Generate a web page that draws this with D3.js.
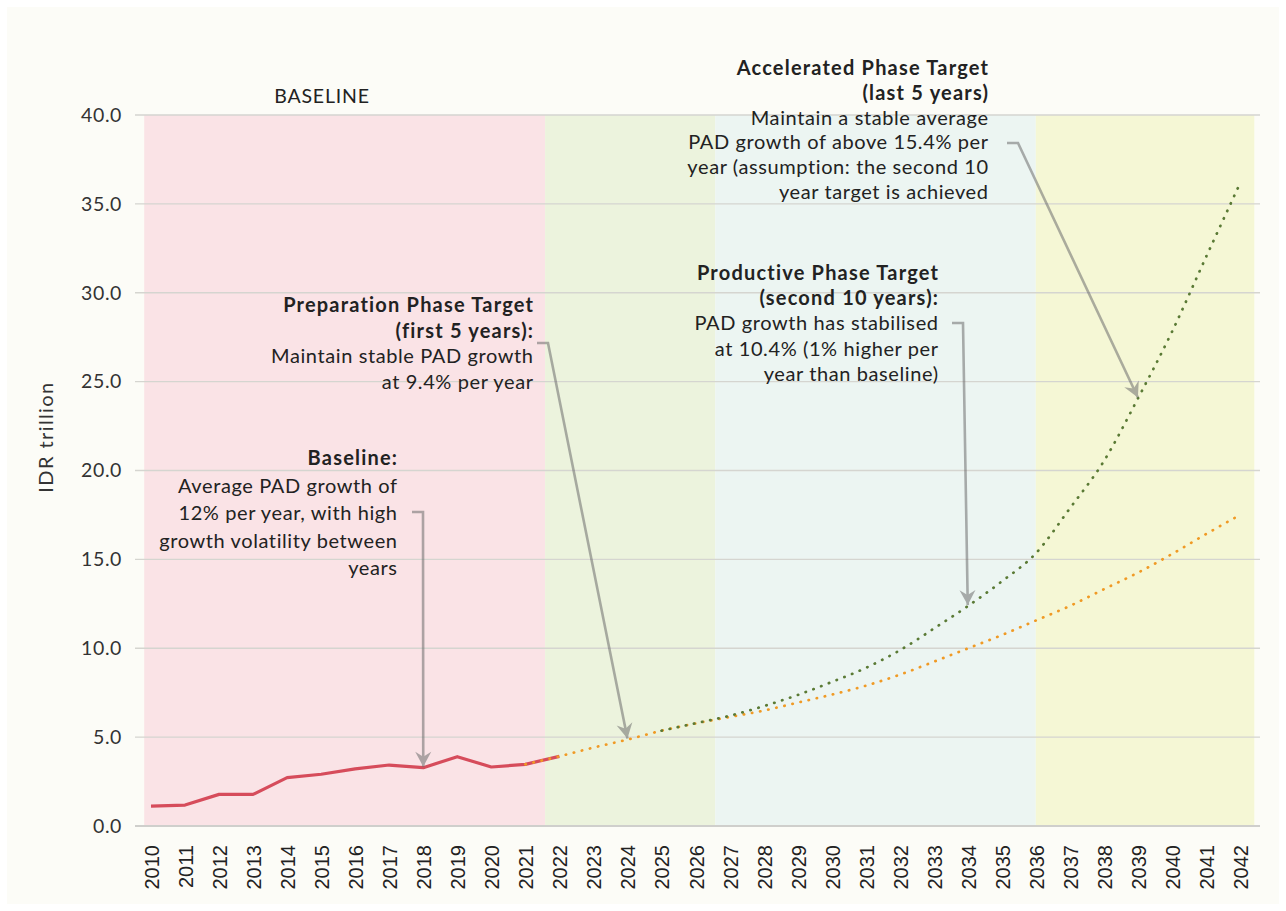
<!DOCTYPE html>
<meta charset="utf-8">
<style>
body {
  margin: 0;
  background: #fff;
}
text {
  font-family: Lato, "Open Sans", sans-serif;
  fill: #222;
}
.grid line {
  stroke: #d5d5d0;
  stroke-width: 1.4;
}
.xlab {
  font-family: "Liberation Sans", Arial, sans-serif;
  font-size: 20px;
}
</style>
<body>
<script src="https://d3js.org/d3.v7.min.js"></script>
<script>

// categories on the x axis
const years = [2010, 2011, 2012, 2013, 2014, 2015, 2016, 2017, 2018, 2019, 2020, 2021,
               2022, 2023, 2024, 2025, 2026, 2027, 2028, 2029, 2030, 2031, 2032, 2033,
               2034, 2035, 2036, 2037, 2038, 2039, 2040, 2041, 2042];

// historical PAD (red)
const baseYears = [2010, 2011, 2012, 2013, 2014, 2015, 2016, 2017, 2018, 2019, 2020, 2021, 2022];
const baseline  = [1.12, 1.18, 1.78, 1.78, 2.72, 2.91, 3.21, 3.43, 3.28, 3.90, 3.32, 3.47, 3.92];

// baseline projection (orange dots)
const projYears = [2021, 2022, 2023, 2024, 2025, 2026, 2027, 2028, 2029, 2030, 2031,
                   2032, 2033, 2034, 2035, 2036, 2037, 2038, 2039, 2040, 2041, 2042];
const projection = [3.47, 3.92, 4.41, 4.86, 5.36, 5.77, 6.13, 6.49, 6.94, 7.39, 7.89,
                    8.51, 9.24, 9.99, 10.74, 11.56, 12.38, 13.32, 14.25, 15.30, 16.42, 17.50];

// target path (green dots)
const targetYears = [2025, 2026, 2027, 2028, 2029, 2030, 2031, 2032, 2033,
                     2034, 2035, 2036, 2037, 2038, 2039, 2040, 2041, 2042];
const target = [5.36, 5.78, 6.20, 6.74, 7.37, 8.10, 8.89, 9.88, 11.10,
                12.37, 13.76, 15.34, 17.87, 20.53, 24.05, 27.80, 32.00, 36.15];

const yTicks = [0, 5, 10, 15, 20, 25, 30, 35, 40];

// phase shading, in year units
const phaseBounds = [2009.8, 2021.58, 2026.58, 2036, 2042.42];
const phaseColors = ["#fae3e6", "#ecf3dd", "#ecf5f2", "#f5f7d5"];

var W = 1286, H = 911;

var svg = d3.select("body").append("svg")
    .attr("width", W)
    .attr("height", H);

svg.append("rect")
    .attr("x", 7).attr("y", 7)
    .attr("width", 1272).attr("height", 897)
    .attr("fill", "#fcfcf7");

var x = d3.scaleLinear().domain([2010, 2042]).range([151, 1240]);
var y = d3.scaleLinear().domain([0, 40]).range([826, 115]);

// phases
svg.selectAll(".phase")
  .data(phaseColors)
  .enter().append("rect")
    .attr("class", "phase")
    .attr("x", (d, i) => x(phaseBounds[i]))
    .attr("width", (d, i) => x(phaseBounds[i + 1]) - x(phaseBounds[i]))
    .attr("y", y(40))
    .attr("height", y(0) - y(40))
    .attr("fill", d => d);

// gridlines
var grid = svg.append("g").attr("class", "grid");
grid.selectAll("line")
  .data(yTicks)
  .enter().append("line")
    .attr("x1", 135).attr("x2", 1260)
    .attr("y1", d => y(d)).attr("y2", d => y(d))
    .style("stroke-width", d => d === 0 ? 2.2 : 1.4)
    .style("stroke", d => d === 0 ? "#cfcfcc" : null);

// y axis labels
var yAxis = d3.axisLeft(y).tickValues(yTicks).tickFormat(d3.format(".1f")).tickSize(0).tickPadding(0);
var gy = svg.append("g").attr("transform", "translate(122,0)").call(yAxis);
gy.select(".domain").remove();
gy.selectAll("text")
    .style("font-family", "Lato, sans-serif")
    .style("font-size", "19.5px")
    .style("letter-spacing", "0.6px")
    .style("fill", "#333");

svg.append("text")
    .attr("transform", "translate(53,437) rotate(-90)")
    .attr("text-anchor", "middle")
    .style("font-size", "20px")
    .style("letter-spacing", "1.4px")
    .style("fill", "#333")
    .text("IDR trillion");

// x axis labels
svg.selectAll(".xlab")
  .data(years)
  .enter().append("text")
    .attr("class", "xlab")
    .attr("transform", d => "translate(" + (x(d) + 1) + ",845) rotate(-90)")
    .attr("text-anchor", "end")
    .attr("dy", "0.35em")
    .text(d => d);

svg.append("text")
    .attr("x", 322).attr("y", 103)
    .attr("text-anchor", "middle")
    .style("font-size", "19.5px")
    .style("letter-spacing", "0.8px")
    .text("BASELINE");

// lines
var straight = d3.line().x(d => x(d[0])).y(d => y(d[1]));
var smooth = d3.line().x(d => x(d[0])).y(d => y(d[1])).curve(d3.curveMonotoneX);

svg.append("path")
    .datum(d3.zip(baseYears, baseline))
    .attr("d", straight)
    .attr("fill", "none")
    .attr("stroke", "#d64c5b")
    .attr("stroke-width", 3.2)
    .attr("stroke-linejoin", "round");

svg.append("path")
    .datum(d3.zip(projYears, projection))
    .attr("d", smooth)
    .attr("fill", "none")
    .attr("stroke", "#f09a25")
    .attr("stroke-width", 2.7)
    .attr("stroke-linecap", "round")
    .attr("stroke-dasharray", "0.4 7.9");

svg.append("path")
    .datum(d3.zip(targetYears, target))
    .attr("d", smooth)
    .attr("fill", "none")
    .attr("stroke", "#5a7a35")
    .attr("stroke-width", 2.7)
    .attr("stroke-linecap", "round")
    .attr("stroke-dasharray", "0.4 7.9");

// annotations
const notes = [
  { bold: ["Baseline:"],
    lines: ["Average PAD growth of", "12% per year, with high", "growth volatility between", "years"],
    right: 397, top: 465, step: 27.6,
    from: [412, 512], elbow: [423, 512], year: 2018, value: 3.28 },
  { bold: ["Preparation Phase Target", "(first 5 years):"],
    lines: ["Maintain stable PAD growth", "at 9.4% per year"],
    right: 533, top: 312, step: 25.7,
    from: [537, 343], elbow: [548, 343], year: 2024, value: 4.86 },
  { bold: ["Productive Phase Target", "(second 10 years):"],
    lines: ["PAD growth has stabilised", "at 10.4% (1% higher per", "year than baseline)"],
    right: 938, top: 280, step: 25.2,
    from: [952, 323], elbow: [963, 323], year: 2034, value: 12.37 },
  { bold: ["Accelerated Phase Target", "(last 5 years)"],
    lines: ["Maintain a stable average", "PAD growth of above 15.4% per", "year (assumption: the second 10", "year target is achieved"],
    right: 988, top: 75, step: 24.8,
    from: [1007, 143], elbow: [1018, 143], year: 2039, value: 24.05 }
];

var defs = svg.append("defs");
defs.append("marker")
    .attr("id", "head")
    .attr("viewBox", "-16 -9 18 18")
    .attr("refX", 0).attr("refY", 0)
    .attr("markerWidth", 18).attr("markerHeight", 18)
    .attr("markerUnits", "userSpaceOnUse")
    .attr("orient", "auto")
  .append("path")
    .attr("d", "M0,0 L-15,-8 L-10,0 L-15,8 Z")
    .attr("fill", "#6e6e6e");

notes.forEach(function(n) {
  var t = svg.append("text").attr("text-anchor", "end").style("font-size", "20px");
  n.bold.concat(n.lines).forEach(function(s, i) {
    var isBold = i < n.bold.length;
    t.append("tspan")
      .attr("x", n.right + (isBold ? 1.2 : 0.6))
      .attr("y", n.top + i * n.step)
      .style("font-weight", isBold ? 700 : 400)
      .style("letter-spacing", isBold ? "1.2px" : "0.6px")
      .text(s);
  });

  svg.append("g").attr("opacity", 0.55)
    .append("path")
      .attr("d", "M" + n.from + "L" + n.elbow + "L" + [x(n.year), y(n.value) - 1])
      .attr("fill", "none")
      .attr("stroke", "#6e6e6e")
      .attr("stroke-width", 2.6)
      .attr("marker-end", "url(#head)");
});

</script>
</body>
</html>
